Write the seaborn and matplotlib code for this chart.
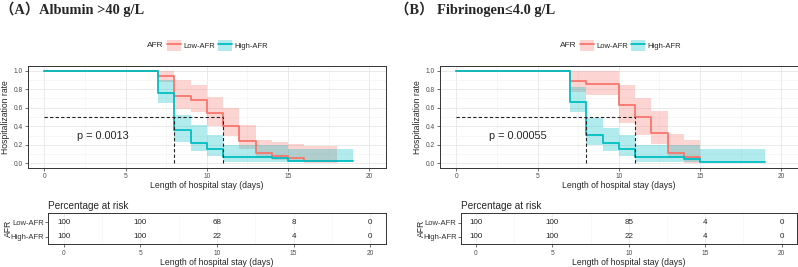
import pandas as pd
import seaborn as sns
import matplotlib.pyplot as plt
from matplotlib.patches import Patch
from matplotlib.lines import Line2D
from matplotlib.legend_handler import HandlerTuple
from matplotlib.ticker import MultipleLocator

# ---- data ----
groups = ["Low-AFR", "High-AFR"]
colors = {"Low-AFR": "#F8766D", "High-AFR": "#00BFC4"}

# panel A: Albumin > 40 g/L
a_low_time = [0, 7, 8, 9, 10, 11, 12, 13, 14, 15, 16, 18]
a_low_surv = [1.0, 0.94, 0.73, 0.68, 0.54, 0.40, 0.24, 0.108, 0.079, 0.054, 0.028, 0.028]
a_low_lo = [1.0, 0.88, 0.59, 0.55, 0.40, 0.29, 0.16, 0.054, 0.036, 0.02, 0.0, 0.0]
a_low_hi = [1.0, 1.0, 0.90, 0.84, 0.72, 0.60, 0.41, 0.25, 0.23, 0.205, 0.19, 0.19]
a_high_time = [0, 7, 8, 9, 10, 11, 14, 15, 19]
a_high_surv = [1.0, 0.756, 0.36, 0.22, 0.16, 0.072, 0.054, 0.025, 0.025]
a_high_lo = [1.0, 0.65, 0.23, 0.13, 0.08, 0.02, 0.02, 0.01, 0.01]
a_high_hi = [1.0, 0.90, 0.52, 0.41, 0.31, 0.20, 0.20, 0.155, 0.155]
a_medians = [8, 11]
a_pval = "p = 0.0013"

# panel B: Fibrinogen <= 4.0 g/L
b_low_time = [0, 7, 8, 10, 11, 12, 13, 14, 15]
b_low_surv = [1.0, 0.89, 0.86, 0.63, 0.50, 0.33, 0.115, 0.064, 0.02]
b_low_lo = [1.0, 0.77, 0.74, 0.43, 0.31, 0.21, 0.055, 0.0, 0.0]
b_low_hi = [1.0, 1.0, 1.0, 0.84, 0.71, 0.57, 0.32, 0.25, 0.25]
b_high_time = [0, 7, 8, 9, 10, 11, 14, 15, 19]
b_high_surv = [1.0, 0.665, 0.31, 0.22, 0.16, 0.072, 0.047, 0.018, 0.018]
b_high_lo = [1.0, 0.55, 0.20, 0.13, 0.08, 0.02, 0.02, 0.01, 0.01]
b_high_hi = [1.0, 0.82, 0.49, 0.38, 0.31, 0.20, 0.20, 0.155, 0.155]
b_medians = [8, 11]
b_pval = "p = 0.00055"

# percentage at risk
risk_times = [0, 5, 10, 15, 20]
a_risk_low = [100, 100, 68, 8, 0]
a_risk_high = [100, 100, 22, 4, 0]
b_risk_low = [100, 100, 85, 4, 0]
b_risk_high = [100, 100, 22, 4, 0]

titles = ["（A）Albumin >40 g/L", "（B） Fibrinogen≤4.0 g/L"]

# ---- style ----
sns.set_style("white")
plt.rcParams["font.family"] = ["Liberation Sans", "DejaVu Sans"]
SPINE = "#333333"
TICK = "#4d4d4d"

W, H = 798, 267
fig = plt.figure(figsize=(W / 100, H / 100), dpi=100)


def px_axes(l, t, r, b):
    return fig.add_axes([l / W, 1 - b / H, (r - l) / W, (b - t) / H])


def frame(ax):
    for s in ax.spines.values():
        s.set_color(SPINE)
        s.set_linewidth(0.7)
    ax.tick_params(which="major", length=2, width=0.5, color=SPINE,
                   labelsize=4.8, pad=1.5, labelcolor=TICK,
                   bottom=True, left=True)
    ax.tick_params(which="minor", length=0)
    ax.set_axisbelow(True)


def km_panel(ax, curves, medians, pval):
    rows = []
    for g, (t, s, lo, hi) in zip(groups, curves):
        for ti, si in zip(t, s):
            rows.append({"time": ti, "surv": si, "AFR": g})
    df = pd.DataFrame(rows)
    sns.lineplot(data=df, x="time", y="surv", hue="AFR", palette=colors,
                 hue_order=groups, estimator=None, sort=False, legend=False,
                 drawstyle="steps-post", lw=1.3, ax=ax)
    for g, (t, s, lo, hi) in zip(groups, curves):
        ax.fill_between(t, lo, hi, step="post", color=colors[g], alpha=0.3,
                        lw=0)
    # median lines
    ax.plot([0, max(medians)], [0.5, 0.5], ls=(0, (3, 2)), color="#222222",
            lw=0.8)
    for m in medians:
        ax.plot([m, m], [0, 0.5], ls=(0, (3, 2)), color="#222222", lw=0.8)
    ax.text(2, 0.29, pval, fontsize=7.8, va="center", ha="left")

    ax.set_xlim(-1, 21)
    ax.set_ylim(-0.05, 1.05)
    ax.set_xticks(risk_times)
    ax.set_yticks([0, 0.2, 0.4, 0.6, 0.8, 1.0])
    ax.set_yticklabels([f"{v:.1f}" for v in ax.get_yticks()])
    ax.xaxis.set_minor_locator(MultipleLocator(2.5))
    ax.yaxis.set_minor_locator(MultipleLocator(0.1))
    ax.grid(which="major", color="#e6e6e6", lw=0.6)
    ax.grid(which="minor", color="#f2f2f2", lw=0.4)
    frame(ax)
    ax.set_xlabel("Length of hospital stay (days)", fontsize=6.2, labelpad=1)
    ax.set_ylabel("Hospitalization rate", fontsize=6.2, labelpad=2.5)


def risk_panel(ax, low, high):
    for yi, vals in zip([1, 0], [low, high]):
        for t, v in zip(risk_times, vals):
            ax.text(t, yi, str(v), ha="center", va="center", fontsize=5.8)
    ax.set_xlim(-1, 21)
    ax.set_ylim(-0.51, 1.67)
    ax.set_xticks(risk_times)
    ax.set_yticks([1, 0])
    ax.set_yticklabels(groups)
    ax.xaxis.set_minor_locator(MultipleLocator(2.5))
    ax.grid(which="major", axis="x", color="#ececec", lw=0.6)
    ax.grid(which="minor", axis="x", color="#f4f4f4", lw=0.4)
    frame(ax)
    ax.tick_params(axis="y", labelsize=5.5, labelcolor="#333333", pad=1)
    ax.tick_params(axis="x", pad=2.5)
    ax.set_xlabel("Length of hospital stay (days)", fontsize=6.2, labelpad=0.5)
    ax.set_ylabel("AFR", fontsize=6.2, labelpad=-2)
    ax.set_title("Percentage at risk", loc="left", fontsize=7.2, pad=3)


panels = [
    dict(main=(28, 66, 385.5, 168), risk=(48.3, 212.7, 385.7, 244),
         curves=[(a_low_time, a_low_surv, a_low_lo, a_low_hi),
                 (a_high_time, a_high_surv, a_high_lo, a_high_hi)],
         medians=a_medians, pval=a_pval, risk_vals=(a_risk_low, a_risk_high),
         title_x=0, legend_x=147),
    dict(main=(440, 66, 797.5, 168), risk=(460.7, 213, 797, 244),
         curves=[(b_low_time, b_low_surv, b_low_lo, b_low_hi),
                 (b_high_time, b_high_surv, b_high_lo, b_high_hi)],
         medians=b_medians, pval=b_pval, risk_vals=(b_risk_low, b_risk_high),
         title_x=395, legend_x=560),
]

for p, title in zip(panels, titles):
    ax = px_axes(*p["main"])
    km_panel(ax, p["curves"], p["medians"], p["pval"])
    rax = px_axes(*p["risk"])
    risk_panel(rax, *p["risk_vals"])

    fig.text(p["title_x"] / W, 1 - 9 / H, title, fontsize=10.4,
             fontweight="bold", va="center", ha="left",
             family=["Liberation Serif", "Noto Sans CJK SC"])

    # legend row
    ly = 1 - 45.7 / H
    fig.text(p["legend_x"] / W, ly, "AFR", fontsize=6, va="center", ha="left")
    handles = [(Patch(facecolor=colors[g], alpha=0.3, edgecolor="none"),
                Line2D([], [], color=colors[g], lw=1.3)) for g in groups]
    fig.legend(handles, groups, loc="center left",
               bbox_to_anchor=((p["legend_x"] + 20) / W, ly), ncol=2,
               frameon=False, fontsize=5.5, handlelength=1.8,
               handleheight=1.8, handletextpad=0.4, columnspacing=0.3,
               borderpad=0, borderaxespad=0,
               handler_map={tuple: HandlerTuple(ndivide=1)})

fig.savefig("out.png", dpi=100)
